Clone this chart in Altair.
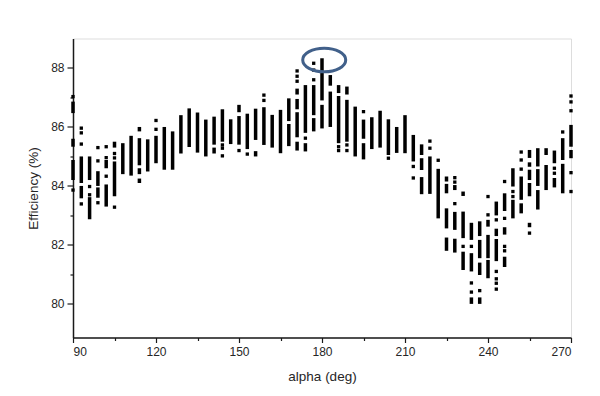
import altair as alt
import pandas as pd

# Vertical runs of stacked points: (alpha, top, bottom)
SEGMENTS = [
    (90, 86.86, 86.47), (90, 85.6, 85.33), (90, 84.88, 84.2),
    (93, 85.0, 84.1), (93, 84.0, 83.58),
    (96, 85.0, 84.2), (96, 83.62, 82.87),
    (99, 84.5, 84.0), (99, 83.95, 83.6),
    (102, 84.88, 84.6), (102, 84.05, 83.3),
    (105, 85.5, 85.3), (105, 84.83, 83.65),
    (108, 85.45, 84.4),
    (111, 85.7, 84.35),
    (114, 86.0, 85.85), (114, 85.62, 84.7), (114, 84.6, 84.4), (114, 84.25, 84.1),
    (117, 85.58, 84.49),
    (120, 85.7, 84.77),
    (123, 86.0, 84.55),
    (126, 85.85, 84.55),
    (129, 86.4, 85.1),
    (132, 86.63, 85.32),
    (135, 86.49, 85.13),
    (138, 86.25, 85.0),
    (141, 86.35, 85.4), (141, 85.3, 85.1),
    (144, 86.6, 85.5),
    (147, 86.26, 85.42),
    (150, 86.75, 86.5), (150, 86.37, 85.4),
    (153, 86.45, 85.25),
    (156, 86.62, 85.56), (156, 85.18, 85.0),
    (159, 86.67, 85.39),
    (162, 86.41, 85.3),
    (165, 86.58, 85.11),
    (168, 86.97, 86.2), (168, 86.1, 85.35),
    (171, 87.3, 87.1), (171, 86.95, 86.6), (171, 86.5, 85.65), (171, 85.5, 85.2),
    (174, 87.42, 85.8), (174, 85.45, 85.17),
    (177, 87.42, 86.4), (177, 86.3, 85.85),
    (180, 88.33, 86.9), (180, 86.75, 85.95),
    (183, 87.76, 87.4), (183, 87.2, 86.0),
    (186, 87.42, 87.15), (186, 87.05, 85.45),
    (189, 87.37, 87.1), (189, 86.92, 85.5),
    (192, 86.69, 85.0),
    (195, 86.25, 85.6), (195, 85.45, 84.9),
    (198, 86.33, 85.25),
    (201, 86.55, 85.3),
    (204, 86.26, 85.05),
    (207, 86.0, 85.12),
    (210, 86.4, 85.11),
    (213, 85.73, 84.83),
    (216, 85.41, 85.05), (216, 84.94, 84.54), (216, 84.3, 83.72),
    (219, 85.0, 83.73),
    (222, 84.58, 82.9),
    (225, 84.32, 84.15), (225, 84.07, 83.75), (225, 83.24, 82.56), (225, 82.25, 81.8),
    (228, 84.03, 83.86), (228, 83.12, 82.51), (228, 82.21, 81.74),
    (231, 83.81, 83.66), (231, 83.13, 82.23), (231, 81.77, 81.15),
    (234, 82.75, 82.17), (234, 81.72, 81.1), (234, 80.22, 80.0),
    (237, 82.8, 82.3), (237, 82.17, 81.55), (237, 81.4, 80.98), (237, 80.22, 80.0),
    (240, 82.85, 82.62), (240, 82.34, 81.55), (240, 81.49, 80.87),
    (243, 83.47, 83.0), (243, 82.55, 82.3), (243, 82.2, 81.45),
    (246, 83.75, 83.15), (246, 82.6, 82.35), (246, 81.6, 81.25),
    (249, 84.6, 83.98), (249, 83.53, 82.9),
    (252, 84.32, 83.53), (252, 83.41, 83.07),
    (255, 85.22, 84.95), (255, 84.8, 84.65), (255, 84.55, 84.2), (255, 84.1, 83.65), (255, 82.75, 82.6),
    (258, 85.28, 84.66), (258, 84.57, 84.0), (258, 83.86, 83.2),
    (261, 85.28, 85.05), (261, 84.71, 83.86),
    (264, 85.2, 84.77), (264, 84.27, 83.95),
    (267, 85.62, 84.88), (267, 84.75, 83.75),
    (270, 86.07, 85.33), (270, 85.22, 84.94),
]

# Isolated points: (alpha, efficiency)
DOTS = [
    (90, 87.03), (90, 83.86),
    (93, 85.96), (93, 85.80), (93, 85.42), (93, 83.39),
    (96, 83.98), (96, 83.7),
    (99, 85.3), (99, 84.85), (99, 83.43),
    (102, 85.33), (102, 84.96), (102, 84.33),
    (105, 85.1), (105, 84.95), (105, 83.28),
    (120, 86.22), (120, 85.92),
    (144, 85.39), (144, 85.28), (144, 85.02),
    (150, 85.2),
    (153, 85.08),
    (159, 87.08), (159, 86.9),
    (171, 87.9), (171, 87.72), (171, 87.55),
    (174, 85.62),
    (177, 88.16), (177, 87.93), (177, 87.6),
    (186, 85.33), (186, 85.2),
    (189, 85.39), (189, 85.2),
    (195, 86.52),
    (204, 84.94),
    (213, 84.66), (213, 84.27),
    (219, 85.52), (219, 85.28),
    (222, 84.87),
    (228, 84.28), (228, 84.13), (228, 83.4),
    (231, 81.95),
    (234, 81.95), (234, 80.71), (234, 80.4),
    (237, 80.45),
    (240, 83.64), (240, 83.02),
    (243, 82.85), (243, 81.1), (243, 80.85), (243, 80.7), (243, 80.5),
    (246, 84.15), (246, 82.9), (246, 81.95), (246, 81.8),
    (249, 83.81), (249, 83.64),
    (252, 85.15), (252, 84.88), (252, 84.57),
    (255, 82.4),
    (264, 84.6), (264, 84.43),
    (267, 85.83),
    (270, 87.05), (270, 86.85), (270, 86.55), (270, 84.45), (270, 83.81),
]

# Highlight ellipse centre
HIGHLIGHT = [(180.8, 88.27)]

X_MAJOR = [90, 120, 150, 180, 210, 240, 270]
X_MINOR = [105, 135, 165, 195, 225, 255]
Y_MAJOR = [80, 82, 84, 86, 88]
Y_MINOR = [81, 83, 85, 87]

seg_df = pd.DataFrame(SEGMENTS, columns=["alpha", "hi", "lo"])
dot_df = pd.DataFrame(DOTS, columns=["alpha", "eff"])
hl_df = pd.DataFrame(HIGHLIGHT, columns=["alpha", "eff"])

xscale = alt.Scale(domain=[90, 270], nice=False, zero=False)
yscale = alt.Scale(domain=[78.86, 89.0], nice=False, zero=False)

FONT = "Liberation Sans"
AX = "#1a1a1a"
TXT = "#262626"

x_axis = alt.Axis(values=X_MAJOR, title="alpha (deg)", grid=False, tickSize=5,
                  tickColor=AX, domainColor=AX, domainWidth=1.5, tickWidth=1.2,
                  labelFont=FONT, labelFontSize=12, labelColor=TXT,
                  labelPadding=4, titleFont=FONT, titleFontSize=13.5,
                  titleFontWeight="normal", titleColor=TXT, titlePadding=12,
                  orient="bottom")
y_axis = alt.Axis(values=Y_MAJOR, title="Efficiency (%)", grid=False, tickSize=6,
                  tickColor=AX, domainColor=AX, domainWidth=1.5, tickWidth=1.2,
                  labelFont=FONT, labelFontSize=12, labelColor=TXT,
                  labelPadding=3, titleFont=FONT, titleFontSize=13.5,
                  titleFontWeight="normal", titleColor=TXT, titlePadding=10,
                  orient="left")
x_minor = alt.Axis(values=X_MINOR, labels=False, domain=False, grid=False,
                   tickSize=3, tickColor=AX, tickWidth=1.2, title=None, orient="bottom")
y_minor = alt.Axis(values=Y_MINOR, labels=False, domain=False, grid=False,
                   tickSize=3, tickColor=AX, tickWidth=1.2, title=None, orient="left")

segs = alt.Chart(seg_df).mark_rule(strokeWidth=3.5, color="black", strokeCap="butt").encode(
    x=alt.X("alpha:Q", scale=xscale, axis=x_axis),
    y=alt.Y("hi:Q", scale=yscale, axis=y_axis),
    y2="lo:Q",
)

dots = alt.Chart(dot_df).mark_square(size=11, color="black", opacity=1, filled=True).encode(
    x=alt.X("alpha:Q", scale=xscale, axis=None),
    y=alt.Y("eff:Q", scale=yscale, axis=None),
)

ELLIPSE = ("M 1 0 C 1 0.304 0.552 0.55 0 0.55 C -0.552 0.55 -1 0.304 -1 0 "
           "C -1 -0.304 -0.552 -0.55 0 -0.55 C 0.552 -0.55 1 -0.304 1 0 Z")

ring = alt.Chart(hl_df).mark_point(shape=ELLIPSE, size=1849, filled=False,
                                   stroke="#41608a", strokeWidth=3, opacity=1).encode(
    x=alt.X("alpha:Q", scale=xscale, axis=x_minor),
    y=alt.Y("eff:Q", scale=yscale, axis=y_minor),
)

chart = alt.layer(segs, dots, ring).resolve_axis(x="independent", y="independent").properties(
    width=498, height=299,
    autosize=alt.AutoSizeParams(type="none"),
    padding={"left": 65, "top": 30.5, "right": 21, "bottom": 50},
).configure_view(stroke=None).configure(background="white")

chart.save("out.html", embed_options={"renderer": "svg", "actions": False})
